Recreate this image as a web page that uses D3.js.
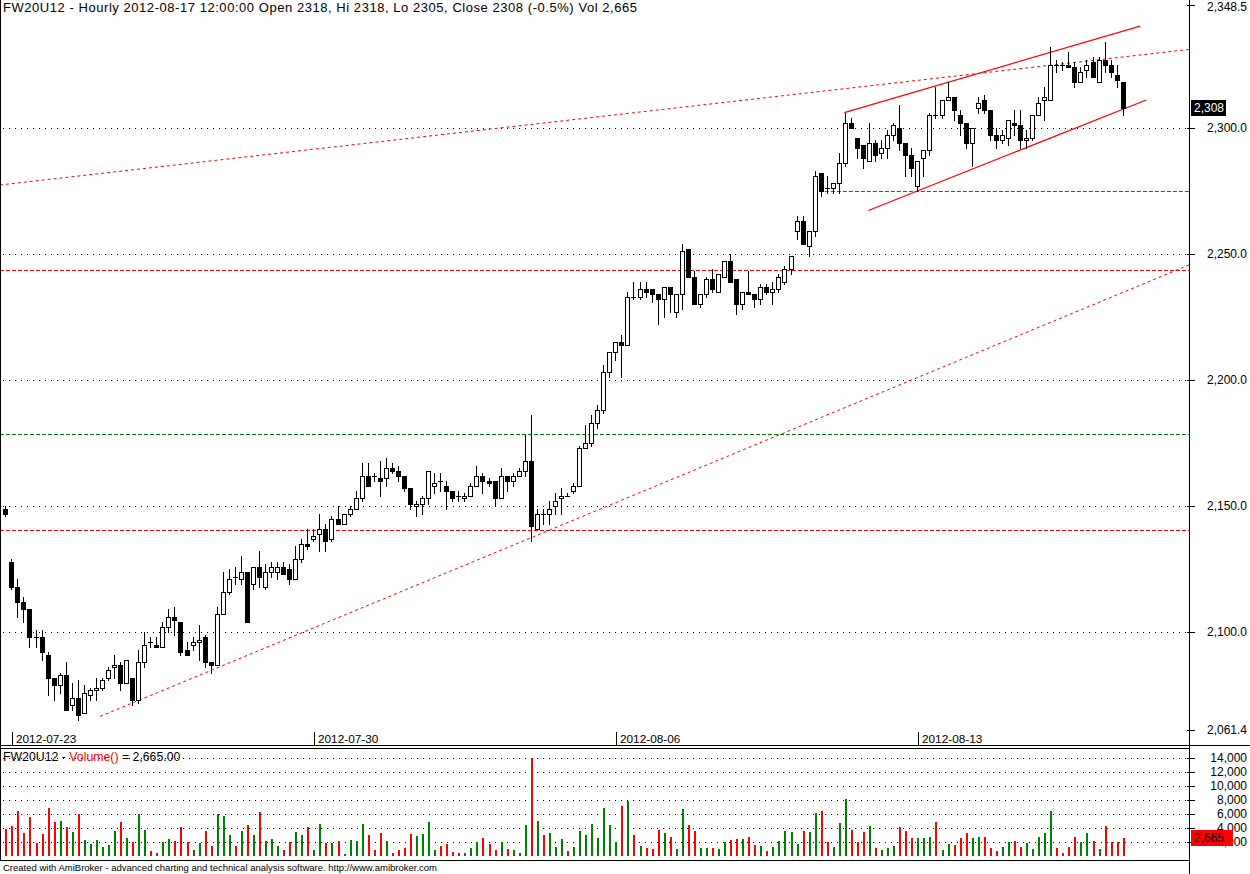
<!DOCTYPE html>
<html><head><meta charset="utf-8">
<script src="https://cdn.jsdelivr.net/npm/d3@7"></script>
<style>
body{margin:0;background:#fff}
svg{display:block}
text{font-family:"Liberation Sans",Arial,sans-serif}
</style>
</head><body>
<svg id="chart" width="1250" height="874"></svg>
<script>
// ---------------- DATA ----------------
const symbol = "FW20U12";
const titleText = "FW20U12 - Hourly 2012-08-17 12:00:00 Open 2318, Hi 2318, Lo 2305, Close 2308 (-0.5%) Vol 2,665";
const opens = [2149,2128,2118,2112,2109,2098,2098,2091,2082,2079,
 2083,2071,2074,2068,2075,2077,2078,2082,2086,2087,
 2080,2082,2073,2088,2096,2095,2094,2102,2106,2104,
 2093,2095,2096,2098,2088,2087,2107,2116,2122,2121,
 2124,2119,2126,2118,2124,2124,2126,2125,2121,2129,
 2135,2137,2139,2141,2137,2145,2143,2147,2149,2153,
 2162,2162,2161,2161,2165,2164,2162,2157,2150,2151,
 2153,2158,2160,2158,2156,2154,2153,2154,2158,2162,
 2160,2160,2153,2162,2160,2162,2164,2168,2141,2147,
 2147,2150,2153,2154,2156,2158,2173,2175,2183,2188,
 2203,2211,2215,2214,2233,2233,2236,2236,2234,2232,
 2237,2227,2234,2252,2241,2230,2234,2240,2235,2241,
 2247,2240,2230,2235,2234,2232,2237,2235,2236,2239,
 2244,2259,2263,2253,2259,2282,2276,2276,2278,2286,
 2302,2296,2293,2287,2294,2290,2292,2297,2300,2294,
 2289,2277,2288,2291,2305,2305,2311,2312,2305,2302,
 2294,2308,2311,2307,2297,2295,2296,2302,2301,2295,
 2296,2305,2311,2311,2325,2325,2325,2324,2318,2323,
 2326,2318,2327,2325,2321,2318];
const highs = [2150,2129,2121,2114,2109,2101,2101,2092,2082,2084,
 2088,2080,2081,2079,2078,2082,2082,2086,2091,2088,
 2089,2082,2093,2100,2098,2098,2104,2109,2110,2104,
 2096,2098,2103,2099,2088,2110,2124,2125,2126,2130,
 2124,2126,2132,2127,2128,2128,2128,2127,2134,2137,
 2141,2141,2147,2143,2146,2150,2147,2150,2156,2167,
 2167,2163,2168,2169,2167,2166,2162,2157,2152,2154,
 2164,2163,2163,2160,2156,2156,2155,2159,2166,2163,
 2161,2160,2165,2162,2163,2165,2178,2186,2149,2149,
 2152,2155,2157,2155,2159,2174,2182,2186,2190,2206,
 2211,2215,2218,2235,2239,2239,2239,2236,2234,2237,
 2237,2234,2254,2252,2243,2234,2241,2244,2242,2247,
 2250,2240,2235,2243,2234,2238,2238,2239,2242,2245,
 2249,2265,2265,2259,2283,2282,2281,2278,2290,2306,
 2304,2296,2293,2302,2295,2295,2299,2302,2309,2294,
 2292,2287,2291,2306,2316,2311,2318,2312,2307,2302,
 2300,2312,2313,2307,2300,2299,2303,2307,2307,2299,
 2305,2312,2316,2332,2327,2326,2330,2326,2324,2327,
 2328,2328,2334,2327,2325,2318];
const lows = [2146,2117,2106,2104,2094,2094,2089,2075,2073,2076,
 2069,2069,2065,2068,2073,2073,2077,2081,2082,2077,
 2080,2071,2072,2086,2094,2094,2094,2100,2099,2091,
 2091,2093,2089,2086,2084,2087,2107,2115,2119,2119,
 2104,2117,2118,2117,2122,2121,2123,2119,2121,2128,
 2133,2136,2132,2132,2136,2143,2143,2146,2149,2152,
 2158,2160,2154,2158,2163,2160,2156,2149,2146,2147,
 2151,2155,2156,2149,2152,2152,2152,2154,2158,2155,
 2158,2150,2153,2156,2158,2162,2162,2136,2141,2143,
 2143,2147,2147,2154,2155,2158,2173,2174,2181,2187,
 2201,2208,2201,2214,2232,2232,2233,2231,2222,2225,
 2227,2225,2228,2241,2230,2229,2233,2235,2235,2241,
 2239,2226,2228,2234,2229,2230,2234,2230,2235,2238,
 2242,2256,2254,2249,2257,2273,2274,2274,2274,2285,
 2300,2288,2284,2287,2287,2288,2288,2295,2291,2281,
 2281,2275,2281,2289,2304,2304,2311,2303,2297,2292,
 2285,2306,2306,2295,2292,2294,2293,2297,2292,2292,
 2295,2305,2303,2311,2322,2323,2324,2316,2318,2320,
 2320,2318,2322,2320,2316,2305];
const closes = [2147,2118,2112,2109,2098,2098,2092,2082,2079,2083,
 2069,2074,2067,2076,2077,2078,2081,2085,2087,2080,
 2089,2073,2088,2095,2096,2094,2102,2106,2105,2092,
 2091,2096,2097,2088,2087,2107,2116,2121,2122,2124,
 2104,2126,2122,2124,2126,2126,2123,2121,2129,2135,
 2134,2138,2141,2136,2145,2143,2147,2149,2153,2162,
 2158,2162,2160,2165,2164,2162,2157,2151,2151,2153,
 2164,2159,2160,2156,2153,2154,2154,2158,2162,2160,
 2159,2153,2162,2160,2162,2164,2168,2142,2147,2147,
 2149,2152,2154,2154,2158,2173,2175,2183,2188,2203,
 2211,2215,2214,2233,2233,2236,2235,2234,2232,2237,
 2234,2234,2251,2241,2230,2234,2240,2236,2242,2247,
 2239,2230,2235,2234,2232,2237,2235,2236,2241,2244,
 2249,2263,2254,2259,2281,2275,2276,2278,2286,2302,
 2300,2292,2288,2294,2289,2292,2297,2301,2294,2289,
 2284,2287,2291,2305,2305,2311,2312,2307,2302,2294,
 2300,2310,2307,2297,2295,2297,2303,2301,2295,2296,
 2305,2310,2312,2325,2325,2325,2324,2318,2322,2325,
 2320,2327,2325,2322,2319,2308];
const volumes = [3850,4330,6470,3330,5610,1940,3180,6900,4900,5040,
 4180,3470,6040,2330,1760,2330,1330,1610,3610,4900,
 2610,2040,6040,3760,760,470,2040,2470,2180,4180,
 2040,900,1900,3610,1470,6040,5750,3040,1470,3610,
 4470,3040,6330,2180,2470,1470,900,2040,3470,3040,
 4180,900,4610,1900,1900,2180,330,2330,2180,4610,
 3040,900,3330,2180,470,900,1190,3180,2900,3180,
 4900,900,1470,1760,610,470,470,1190,2040,2610,
 1760,900,2040,1040,900,470,4470,14000,5040,3040,
 3330,1330,2470,760,1330,3610,3040,4610,2610,6900,
 4470,2040,7180,7900,3040,1470,1190,1040,3760,3330,
 2760,1040,6750,4470,3610,1190,1190,1190,1040,2040,
 2330,2470,2470,2760,1610,1470,760,1330,2180,3610,
 3470,1760,3610,3470,6180,6470,2040,1330,4760,8180,
 3760,2040,3470,4330,1190,900,1190,1470,4180,3610,
 2610,2610,2610,2760,4900,900,1760,1610,2610,3330,
 2610,2760,2760,1190,760,1330,2040,2180,1330,1900,
 1040,2760,3330,6470,1190,470,1330,2760,2040,3330,
 2180,1040,4330,2040,2040,2665];
// price axis
const priceTicks = [2300, 2250, 2200, 2150, 2100];
const priceMin = 2061.4, priceMax = 2348.5;
const volTicks = [14000, 12000, 10000, 8000, 6000, 4000, 2000];
// date labels (bar index where each week starts)
const dateLabels = ["2012-07-23", "2012-07-30", "2012-08-06", "2012-08-13"];
const dateBars = [1, 51, 101, 151];
// drawn studies: [bar1, price1, bar2, price2]
const dottedTrends = [[-0.9, 2277.3, 196.2, 2331.1], [15.7, 2066.6, 196.2, 2245.8]];
const channelLines = [[138.9, 2306.0, 187.9, 2340.3], [142.9, 2267.2, 188.9, 2311.0]];
const redLevels = [2243.5, 2140.6];
const greenLevels = [2178.7];
const partialLevel = [133.7, 2275.0];
const lastPrice = 2308, lastVolume = 2665;

// ---------------- DRAW ----------------
const svg = d3.select("#chart");
const n = closes.length;
const x = d3.scaleLinear().domain([0, n - 1]).range([5.3, 5.3 + 6.04 * (n - 1)]);
const y = d3.scaleLinear().domain([priceMin, priceMax]).range([729.5, 5.4]);
const yv = d3.scaleLinear().domain([0, 14000]).range([856.3, 758.3]);
const axisX = 1189.5;
const px = v => Math.round(v) + 0.5;

svg.append("rect").attr("width", 1250).attr("height", 874).attr("fill", "#fff");
svg.append("defs").append("clipPath").attr("id", "pclip")
  .append("rect").attr("x", 0).attr("y", 0).attr("width", 1189).attr("height", 745);

// grid (price)
const grid = svg.append("g");
grid.selectAll("line.pg").data(priceTicks).join("line")
  .attr("x1", 3).attr("x2", 1189).attr("y1", d => px(y(d))).attr("y2", d => px(y(d)))
  .attr("stroke", "#000").attr("stroke-dasharray", "1,5");
grid.selectAll("line.vg").data(volTicks).enter().append("line")
  .attr("x1", 3).attr("x2", 1189).attr("y1", d => px(yv(d))).attr("y2", d => px(yv(d)))
  .attr("stroke", "#000").attr("stroke-dasharray", "1,5");

// studies
const studies = svg.append("g").attr("clip-path", "url(#pclip)");
studies.selectAll("line.rl").data(redLevels).enter().append("line")
  .attr("x1", 0).attr("x2", 1189).attr("y1", d => px(y(d))).attr("y2", d => px(y(d)))
  .attr("stroke", "#f00").attr("stroke-dasharray", "4,2");
studies.selectAll("line.gl").data(greenLevels).enter().append("line")
  .attr("x1", 0).attr("x2", 1189).attr("y1", d => px(y(d))).attr("y2", d => px(y(d)))
  .attr("stroke", "#008000").attr("stroke-dasharray", "4,2");
studies.append("line")
  .attr("x1", x(partialLevel[0])).attr("x2", 1189)
  .attr("y1", px(y(partialLevel[1]))).attr("y2", px(y(partialLevel[1])))
  .attr("stroke", "#f00").attr("stroke-dasharray", "4,2");
studies.selectAll("line.dt").data(dottedTrends).enter().append("line")
  .attr("x1", d => x(d[0])).attr("y1", d => y(d[1])).attr("x2", d => x(d[2])).attr("y2", d => y(d[3]))
  .attr("stroke", "#f00").attr("stroke-dasharray", "3,3");
studies.selectAll("line.ch").data(channelLines).enter().append("line")
  .attr("x1", d => x(d[0])).attr("y1", d => y(d[1])).attr("x2", d => x(d[2])).attr("y2", d => y(d[3]))
  .attr("stroke", "#f00").attr("stroke-width", 1.2);

// candles
const bars = d3.range(n);
const cg = svg.append("g").attr("clip-path", "url(#pclip)");
cg.selectAll("line.wick").data(bars).enter().append("line")
  .attr("x1", i => Math.round(x(i)) + 0.5).attr("x2", i => Math.round(x(i)) + 0.5)
  .attr("y1", i => Math.round(y(highs[i]))).attr("y2", i => Math.round(y(lows[i])) + 1)
  .attr("stroke", "#000");
cg.selectAll("rect.body").data(bars.filter(i => opens[i] !== closes[i])).enter().append("rect")
  .attr("x", i => Math.round(x(i)) - 1.5).attr("width", 4)
  .attr("y", i => px(y(Math.max(opens[i], closes[i]))))
  .attr("height", i => Math.max(1, px(y(Math.min(opens[i], closes[i]))) - px(y(Math.max(opens[i], closes[i])))))
  .attr("fill", i => closes[i] > opens[i] ? "#fff" : "#000")
  .attr("stroke", "#000");
cg.selectAll("line.doji").data(bars.filter(i => opens[i] === closes[i])).enter().append("line")
  .attr("x1", i => Math.round(x(i)) - 2).attr("x2", i => Math.round(x(i)) + 3)
  .attr("y1", i => px(y(closes[i]))).attr("y2", i => px(y(closes[i])))
  .attr("stroke", "#000");

// volume bars
svg.append("g").selectAll("rect").data(bars).enter().append("rect")
  .attr("x", i => Math.round(x(i))).attr("width", 2)
  .attr("y", i => Math.round(yv(volumes[i])))
  .attr("height", i => Math.round(yv(0)) - Math.round(yv(volumes[i])))
  .attr("fill", i => closes[i] > opens[i] ? "#008000" : "#ff0000");

// frames
const fr = svg.append("g").attr("stroke", "#000").attr("fill", "none");
fr.append("line").attr("x1", 0.5).attr("x2", 0.5).attr("y1", 0).attr("y2", 861);
fr.append("line").attr("x1", axisX).attr("x2", axisX).attr("y1", 0).attr("y2", 874);
fr.append("line").attr("x1", 0).attr("x2", 1250).attr("y1", 745.5).attr("y2", 745.5);
fr.append("line").attr("x1", 0).attr("x2", 1190).attr("y1", 748.5).attr("y2", 748.5);
fr.append("line").attr("x1", 0).attr("x2", 1190).attr("y1", 860.5).attr("y2", 860.5);

// date axis
const dg = svg.append("g");
dg.selectAll("line").data(dateBars).enter().append("line")
  .attr("x1", i => Math.round(x(i)) + 1.5).attr("x2", i => Math.round(x(i)) + 1.5)
  .attr("y1", 732).attr("y2", 745).attr("stroke", "#000");
dg.selectAll("text").data(dateLabels).enter().append("text")
  .attr("x", (d, k) => Math.round(x(dateBars[k])) + 5).attr("y", 743)
  .attr("font-size", 11.8).text(d => d);

// price axis
const pa = svg.append("g");
const allPriceLabels = [priceMax].concat(priceTicks).concat([priceMin]);
pa.selectAll("line").data(allPriceLabels).enter().append("line")
  .attr("x1", 1187).attr("x2", 1195).attr("y1", d => px(y(d))).attr("y2", d => px(y(d))).attr("stroke", "#000");
pa.selectAll("text").data(allPriceLabels).enter().append("text")
  .attr("x", 1247).attr("y", d => Math.max(11, y(d) + 4)).attr("text-anchor", "end").attr("font-size", 12)
  .text(d => d3.format(",.1f")(d));
// volume axis
const va = svg.append("g");
va.selectAll("line").data(volTicks).enter().append("line")
  .attr("x1", 1187).attr("x2", 1195).attr("y1", d => px(yv(d))).attr("y2", d => px(yv(d))).attr("stroke", "#000");
va.selectAll("text").data(volTicks).enter().append("text")
  .attr("x", 1247).attr("y", d => yv(d) + 4).attr("text-anchor", "end").attr("font-size", 12)
  .text(d => d3.format(",")(d));

// last value markers
const ly = y(lastPrice);
svg.append("rect").attr("x", 1191).attr("y", Math.round(ly) - 8).attr("width", 35).attr("height", 16).attr("fill", "#000");
svg.append("text").attr("x", 1194).attr("y", Math.round(ly) + 4).attr("font-size", 12).attr("fill", "#fff")
  .text(d3.format(",")(lastPrice));
const lv = yv(lastVolume);
svg.append("rect").attr("x", 1191).attr("y", Math.round(lv) - 8).attr("width", 42).attr("height", 16).attr("fill", "#ff0000");
svg.append("text").attr("x", 1194).attr("y", Math.round(lv) + 4).attr("font-size", 12).attr("fill", "#000")
  .text(d3.format(",")(lastVolume));

// titles
svg.append("text").attr("x", 3).attr("y", 12).attr("font-size", 13)
  .attr("textLength", 634).attr("lengthAdjust", "spacing").text(titleText);
const vt = svg.append("text").attr("x", 3).attr("y", 761).attr("font-size", 12.3);
vt.append("tspan").text(symbol + " - ");
vt.append("tspan").attr("fill", "#ff0000").text("Volume()");
vt.append("tspan").text(" = " + d3.format(",.2f")(lastVolume));
svg.append("text").attr("x", 3).attr("y", 871).attr("font-size", 9.5)
  .text("Created with AmiBroker - advanced charting and technical analysis software. http://www.amibroker.com");
</script>
</body></html>
